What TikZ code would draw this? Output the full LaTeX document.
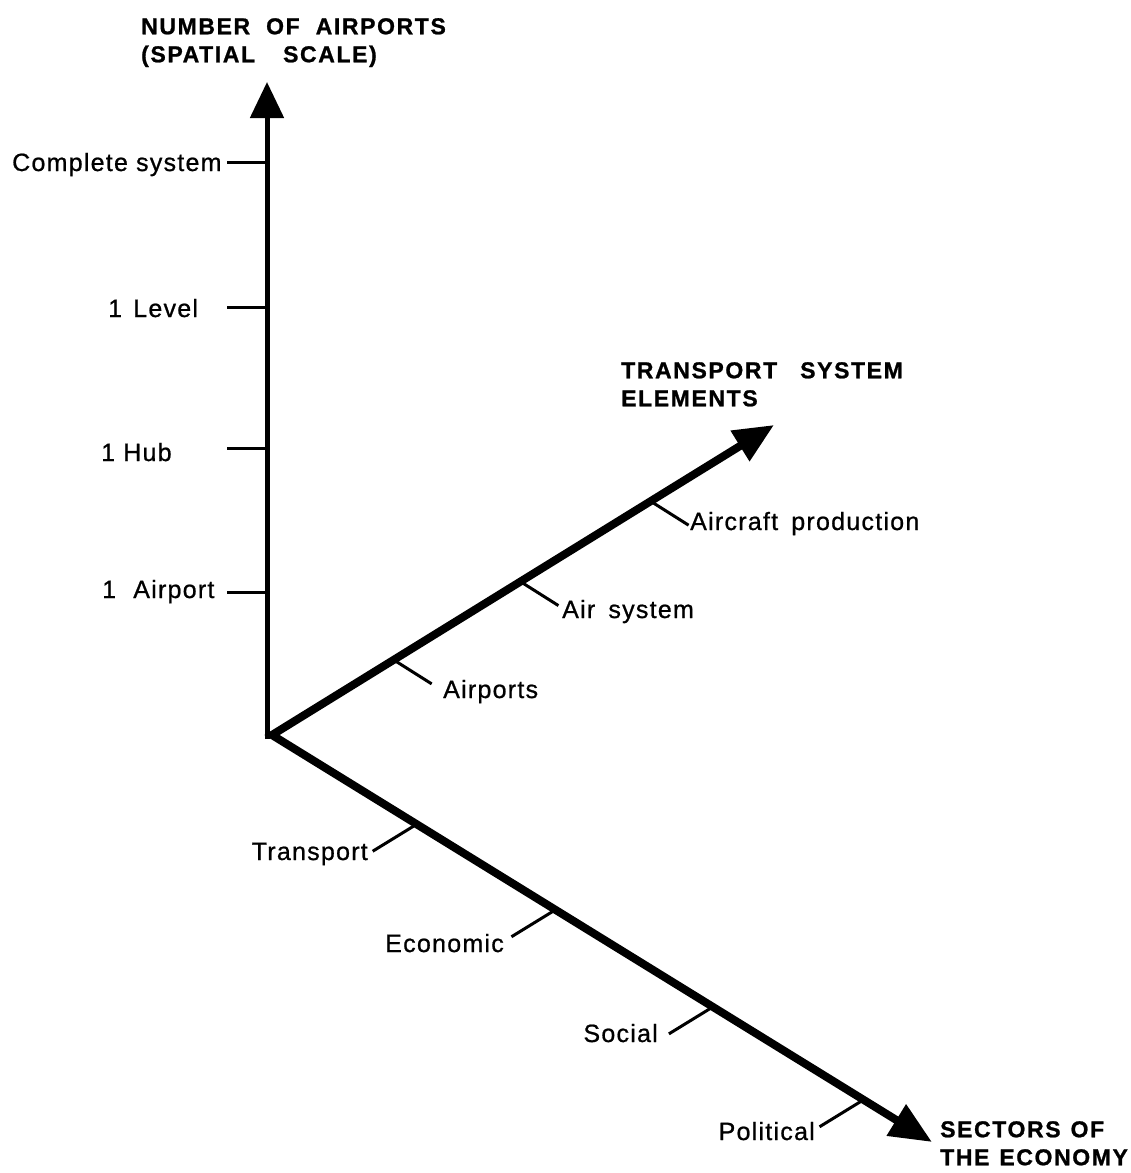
\documentclass[tikz,border=0pt]{standalone}
\usepackage{fontspec}
\setmainfont{Liberation Sans}[LetterSpace=5,FakeBold=0.8]
\newfontfamily\headfont{Liberation Sans}[LetterSpace=7,FakeBold=1]
\usetikzlibrary{arrows.meta,calc}
\begin{document}
\begin{tikzpicture}[x=1pt,y=-1pt,
  axis/.style={line width=8pt,line join=miter},
  vaxis/.style={line width=5pt,-{Triangle[length=36pt,width=33pt]}},
  tick/.style={line width=3pt},
  lab/.style={font=\fontsize{25}{28}\selectfont,inner sep=0pt},
  heading/.style={font=\headfont\fontsize{23}{28}\selectfont\bfseries,inner sep=0pt,align=left,anchor=north west},
]
\useasboundingbox (0,0) rectangle (1131,1173);

% axis end points
\coordinate (O) at (272,735);
\coordinate (Vbot) at (267,739);
\coordinate (Vtip) at (267,82);
\coordinate (Utip) at (774,425);
\coordinate (Dtip) at (932,1142);

% vertical axis: number of airports
\draw[vaxis] (Vbot) -- (Vtip);
% the two oblique axes, joined at the origin
\draw[axis,{Triangle[length=40pt,width=34pt]}-{Triangle[length=42pt,width=35pt]}] (Utip) -- (O) -- (Dtip);

% ticks on the vertical axis
\foreach \n/\y in {v1/162,v2/307,v3/448,v4/592}{
  \coordinate (\n) at (267,\y);
  \coordinate (\n e) at (227,\y);
  \draw[tick] (\n) -- (\n e);
}
\node[lab,anchor=base west] (cs) at (12,171) {Complete system};
\node[lab,anchor=base west] (lv) at (108,317) {1\hspace{3pt} Level};
\node[lab,anchor=base west] (hb) at (101,461) {1 Hub};
\node[lab,anchor=base west] (ap) at (102,598) {1\hspace{9pt} Airport};

% ticks on the transport-elements axis
\foreach \n/\s in {u1/143,u2/292,u3/445}{
  \coordinate (\n) at ($(O)!\s pt!(Utip)$);
  \coordinate (\n e) at ($(\n)+(38,24)$);
  \draw[tick] (\n) -- (\n e);
}
\node[lab,anchor=base west] (aps) at (443,698) {Airports};
\node[lab,anchor=base west] (asy) at (562,618) {Air\hspace{5pt} system};
\node[lab,anchor=base west] (acp) at (690,530) {Aircraft\hspace{5pt} production};

% ticks on the sectors axis
\foreach \n/\s in {d1/170,d2/333,d3/518,d4/695}{
  \coordinate (\n) at ($(O)!\s pt!(Dtip)$);
  \coordinate (\n e) at ($(\n)+(-44,27)$);
  \draw[tick] (\n) -- (\n e);
}
\node[lab,anchor=base east] (tr) at (368,860) {Transport};
\node[lab,anchor=base east] (ec) at (504,952) {Economic};
\node[lab,anchor=base east] (so) at (658,1042) {Social};
\node[lab,anchor=base east] (po) at (815,1140) {Political};

% axis headings
\node[heading] (hv) at (141,18) {NUMBER\hspace{8pt} OF\hspace{8pt} AIRPORTS\\(SPATIAL\hspace{20pt} SCALE)};
\node[heading] (hu) at (621,362) {TRANSPORT\hspace{15pt} SYSTEM\\ELEMENTS};
\node[heading] (hd) at (940,1121) {SECTORS\hspace{2pt} OF\\THE\hspace{2pt} ECONOMY};
\end{tikzpicture}
\end{document}
